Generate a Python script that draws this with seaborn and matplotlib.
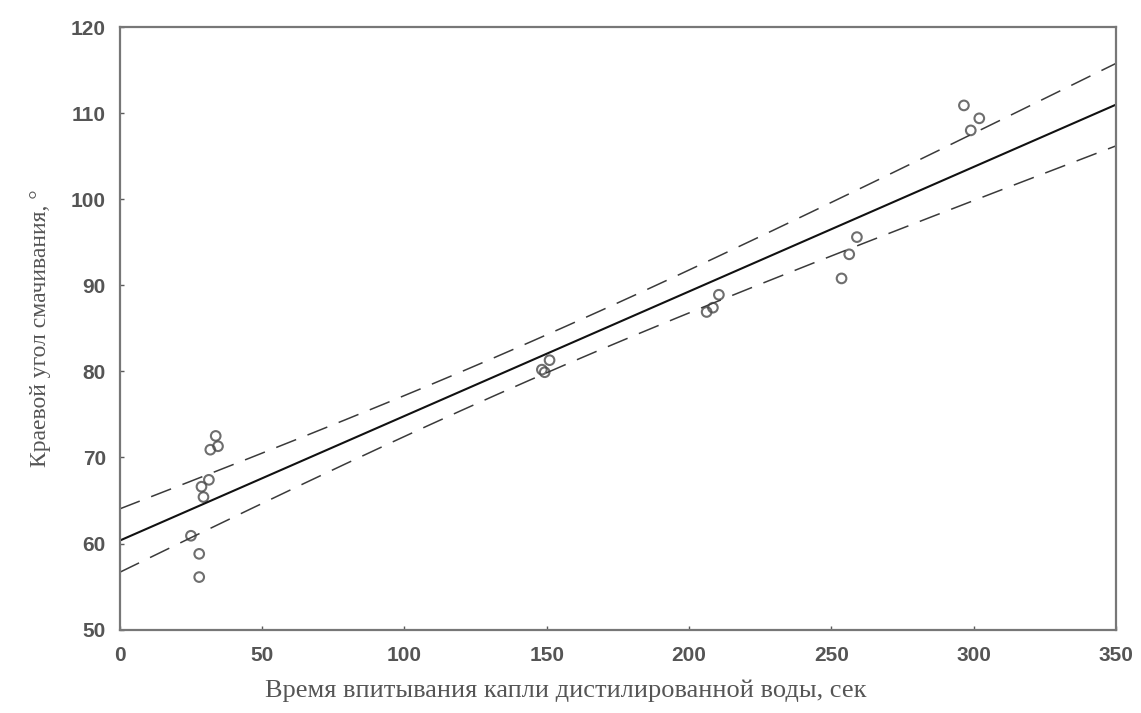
import numpy as np
import pandas as pd
import matplotlib
matplotlib.use("Agg")
import matplotlib.pyplot as plt
import seaborn as sns

# Data
time_sec = [33.7, 34.5, 31.8, 31.3, 28.7, 29.4, 25.0, 27.9, 27.9,
            151.0, 148.3, 149.3,
            210.5, 208.4, 206.2,
            259.0, 256.3, 253.6,
            296.6, 302.0, 299.0]
angle_deg = [72.5, 71.3, 70.9, 67.4, 66.6, 65.4, 60.9, 58.8, 56.1,
             81.3, 80.2, 79.9,
             88.9, 87.4, 86.9,
             95.6, 93.6, 90.8,
             110.9, 109.4, 108.0]
x_ticks = [0, 50, 100, 150, 200, 250, 300, 350]
y_ticks = [50, 60, 70, 80, 90, 100, 110, 120]
x_label = "Время впитывания капли дистилированной воды, сек"
y_label = "Краевой угол смачивания, °"

df = pd.DataFrame({"t": time_sec, "a": angle_deg})

sns.set_style("white")
plt.rcParams['font.family'] = ['Liberation Sans', 'DejaVu Sans']

fig = plt.figure(figsize=(11.41, 7.13), dpi=100)
ax = fig.add_axes([0.105, 0.117, 0.873, 0.845])
ax.set_xlim(0, 350)
ax.set_ylim(50, 120)

grey = "#5a5a5a"
sns.regplot(data=df, x="t", y="a", ax=ax, ci=None, truncate=False,
            scatter_kws=dict(s=48, facecolors="none", edgecolors="#4a4a4a", linewidths=1.5),
            line_kws=dict(color="#111111", lw=1.5))

# 95% confidence band of the regression line (dashed)
x = np.asarray(time_sec); y = np.asarray(angle_deg)
n = len(x)
b, a0 = np.polyfit(x, y, 1)
resid = y - (a0 + b * x)
s = np.sqrt(np.sum(resid**2) / (n - 2))
xx = np.linspace(0, 350, 200)
se = s * np.sqrt(1 / n + (xx - x.mean())**2 / np.sum((x - x.mean())**2))
tval = 2.093
yy = a0 + b * xx
for sign in (1, -1):
    ax.plot(xx, yy + sign * tval * se, color="#3a3a3a", lw=1.1, dashes=(14, 8))

ax.set_xlim(0, 350)
ax.set_ylim(50, 120)
ax.set_xticks(x_ticks)
ax.set_yticks(y_ticks)
ax.set_xticklabels([str(v) for v in x_ticks], fontsize=15, color="#555555", fontweight="bold")
ax.set_yticklabels([str(v) for v in y_ticks], fontsize=15, color="#555555", fontweight="bold")
ax.tick_params(direction="in", length=3, width=1, color=grey)
ax.tick_params(axis="x", bottom=True, pad=12)
ax.tick_params(axis="y", left=True, pad=10)
for sp in ax.spines.values():
    sp.set_visible(True)
    sp.set_color("#777777")
    sp.set_linewidth(1.6)

ax.set_xlabel(x_label, fontsize=19, color="#555555", family=["Liberation Serif", "DejaVu Serif"], labelpad=8)
ax.xaxis.set_label_coords(0.448, -0.083)
ax.set_ylabel(y_label, fontsize=17, color="#555555", family=["Liberation Serif", "DejaVu Serif"], labelpad=14)

fig.savefig("out.png", dpi=100)
